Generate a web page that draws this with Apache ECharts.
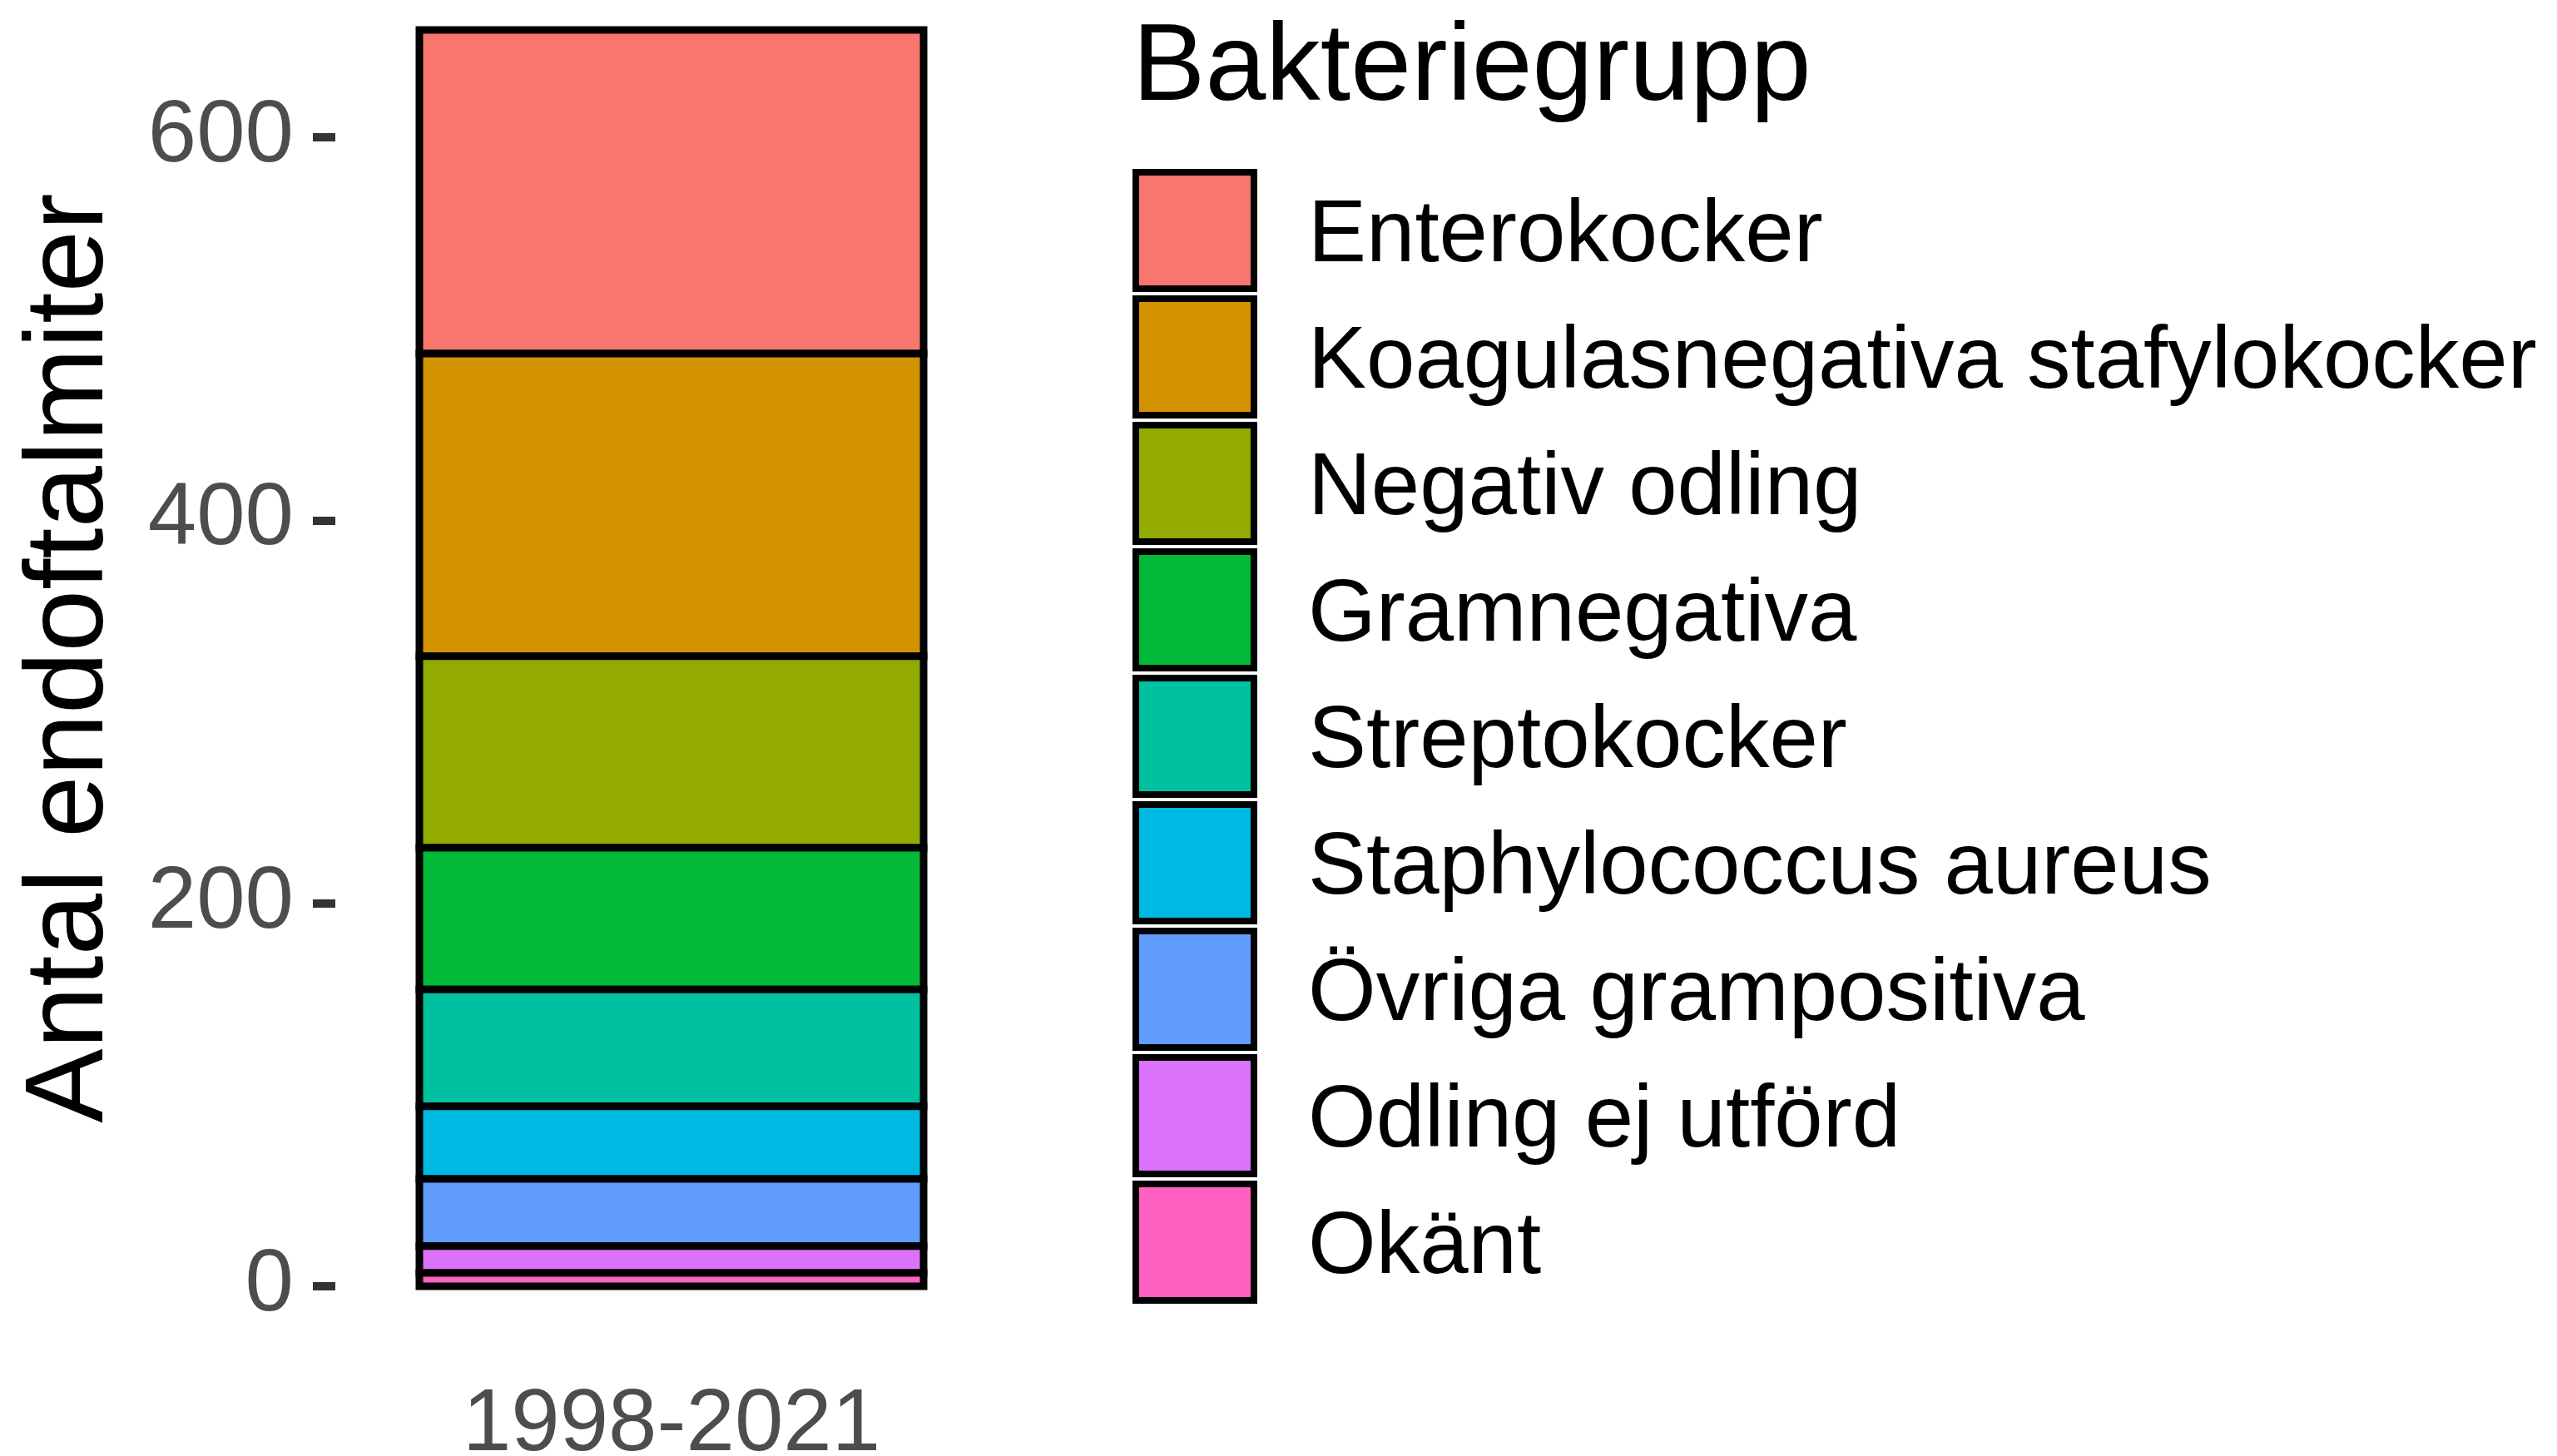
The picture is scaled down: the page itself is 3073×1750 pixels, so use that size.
<!DOCTYPE html>
<html>
<head>
<meta charset="utf-8">
<script src="https://cdn.jsdelivr.net/npm/echarts@6/dist/echarts.min.js"></script>
<style>
html,body{margin:0;padding:0;background:#fff;}
#chart{width:3073px;height:1750px;}
</style>
</head>
<body>
<div id="chart"></div>
<script>
// ---- data ----
const periods = ['1998-2021'];
const groups = ['Enterokocker','Koagulasnegativa stafylokocker','Negativ odling','Gramnegativa','Streptokocker','Staphylococcus aureus','Övriga grampositiva','Odling ej utförd','Okänt'];
const counts = [169, 158, 100, 74, 61, 38, 35, 14, 7];
const groupColors = ['#F8766D','#D39200','#93AA00','#00BA38','#00C19F','#00B9E3','#619CFF','#DB72FB','#FF61C3'];
const yTicks = [0, 200, 400, 600];
const legendTitle = 'Bakteriegrupp';
const yTitle = 'Antal endoftalmiter';

// ---- build stacked ranges (bottom = last group) ----
const total = counts.reduce((a, b) => a + b, 0);
const bases = new Array(counts.length);
let acc = 0;
for (let i = counts.length - 1; i >= 0; i--) { bases[i] = acc; acc += counts[i]; }

const FONT = 'Liberation Sans, Arial, sans-serif';

const series = groups.map((g, i) => ({
  type: 'custom',
  name: g,
  itemStyle: { color: groupColors[i] },
  encode: { x: 0, y: [1, 2] },
  data: [[0, bases[i], bases[i] + counts[i]]],
  renderItem: function (params, api) {
    const x = api.value(0);
    const p0 = api.coord([x, api.value(1)]);
    const p1 = api.coord([x, api.value(2)]);
    const w = api.size([1, 0])[0] * 0.75;
    return {
      type: 'rect',
      shape: { x: p0[0] - w / 2, y: p1[1], width: w, height: p0[1] - p1[1] },
      style: { fill: groupColors[i], stroke: '#000000', lineWidth: 9 }
    };
  }
}));

const chart = echarts.init(document.getElementById('chart'), null, { renderer: 'canvas' });
chart.setOption({
  backgroundColor: '#ffffff',
  animation: false,
  textStyle: { fontFamily: FONT },
  title: {
    text: legendTitle,
    left: 1361, top: 18, padding: 0,
    textStyle: { fontFamily: FONT, fontSize: 131, fontWeight: 'normal', color: '#000000' }
  },
  legend: {
    orient: 'vertical',
    left: 1361, top: 203, padding: 0,
    icon: 'rect',
    itemWidth: 142, itemHeight: 140, itemGap: 4,
    itemStyle: { borderColor: '#000000', borderWidth: 8 },
    formatter: function (name) { return '{t|' + name + '}'; },
    textStyle: {
      fontFamily: FONT, fontSize: 105, color: '#000000',
      rich: { t: { fontFamily: FONT, fontSize: 105, color: '#000000', padding: [16, 0, 0, 60] } }
    },
    data: groups
  },
  grid: { left: 403, top: 36, width: 808, height: 1510, containLabel: false, outerBoundsMode: 'none' },
  xAxis: {
    type: 'category',
    data: periods,
    axisLine: { show: false },
    axisTick: { show: false },
    splitLine: { show: false },
    axisLabel: { fontFamily: FONT, fontSize: 105, color: '#4D4D4D', margin: 116 }
  },
  yAxis: {
    type: 'value',
    min: 0, max: total,
    name: yTitle,
    nameLocation: 'middle',
    nameRotate: 90,
    nameGap: 250,
    nameTextStyle: { fontFamily: FONT, fontSize: 134, color: '#000000' },
    axisLine: { show: false },
    splitLine: { show: false },
    axisTick: { show: true, length: 27, customValues: yTicks, lineStyle: { color: '#333333', width: 10 } },
    axisLabel: { fontFamily: FONT, fontSize: 105, color: '#4D4D4D', margin: 50, customValues: yTicks }
  },
  series: series
});
</script>
</body>
</html>
